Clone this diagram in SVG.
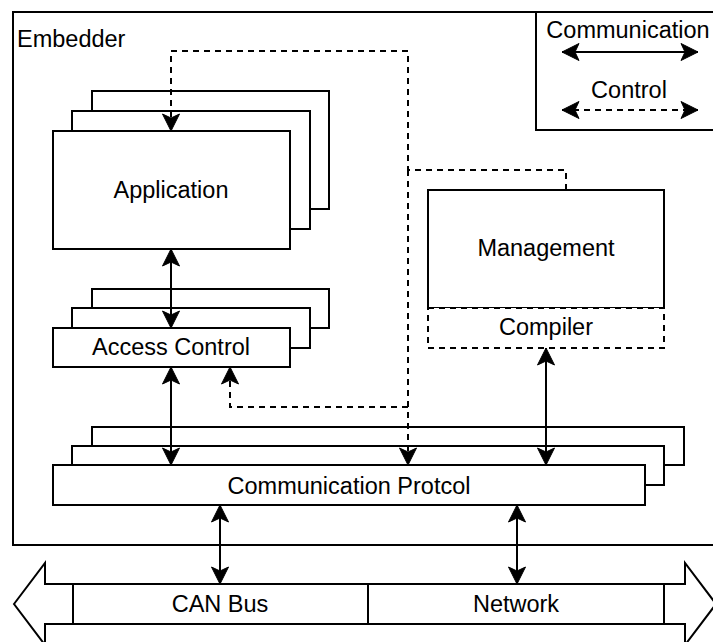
<svg xmlns="http://www.w3.org/2000/svg" width="713" height="642" viewBox="0 0 713 642">
  <style>
    .box { fill: #ffffff; stroke: #000000; stroke-width: 2; }
    .dbox { fill: #ffffff; stroke: #000000; stroke-width: 2; stroke-dasharray: 6 5; }
    .lbl { font-family: "Liberation Sans", Arial, Helvetica, sans-serif; font-size: 23.5px; fill: #000000; }
    .mid { text-anchor: middle; }
    .comm { fill: none; stroke: #000000; stroke-width: 2; }
    .ctrl { fill: none; stroke: #000000; stroke-width: 2; stroke-dasharray: 6 5; }
  </style>
  <defs>
    <marker id="arrow" markerUnits="userSpaceOnUse" viewBox="-18 -10 20 20" refX="0" refY="0" markerWidth="20" markerHeight="20" orient="auto-start-reverse">
      <path d="M0,0 L-17,-8.5 L-13,0 L-17,8.5 Z" fill="#000000" stroke="#000000" stroke-width="1" stroke-linejoin="miter"/>
    </marker>
  </defs>

  <rect width="713" height="642" fill="#ffffff"/>

  <!-- outer container -->
  <g id="embedder">
    <rect class="box" x="13" y="12" width="720" height="533"/>
    <text class="lbl" x="17" y="47">Embedder</text>
  </g>

  <!-- legend -->
  <g id="legend">
    <rect class="box" x="536" y="12" width="200" height="118"/>
    <text class="lbl mid" x="628" y="38">Communication</text>
    <path class="comm" d="M562,52 H698" marker-start="url(#arrow)" marker-end="url(#arrow)"/>
    <text class="lbl mid" x="629" y="98">Control</text>
    <path class="ctrl" d="M562,110 H698" marker-start="url(#arrow)" marker-end="url(#arrow)"/>
  </g>

  <!-- application stack -->
  <g id="application">
    <rect class="box" x="92" y="91" width="237" height="118"/>
    <rect class="box" x="72" y="111" width="238" height="118"/>
    <rect class="box" x="53" y="131" width="237" height="118"/>
    <text class="lbl mid" x="171" y="198">Application</text>
  </g>

  <!-- access control stack -->
  <g id="access-control">
    <rect class="box" x="92" y="289" width="237" height="39"/>
    <rect class="box" x="72" y="308" width="238" height="40"/>
    <rect class="box" x="53" y="328" width="237" height="39"/>
    <text class="lbl mid" x="171" y="355">Access Control</text>
  </g>

  <!-- management with compiler -->
  <g id="management">
    <rect class="box" x="428" y="190" width="236" height="118"/>
    <text class="lbl mid" x="546" y="256">Management</text>
  </g>
  <g id="compiler">
    <rect class="dbox" x="428" y="308" width="236" height="40"/>
    <text class="lbl mid" x="546" y="335">Compiler</text>
  </g>

  <!-- communication protocol stack -->
  <g id="communication-protocol">
    <rect class="box" x="92" y="427" width="592" height="38"/>
    <rect class="box" x="72" y="446" width="592" height="39"/>
    <rect class="box" x="53" y="465" width="592" height="40"/>
    <text class="lbl mid" x="349" y="494">Communication Protcol</text>
  </g>

  <!-- bus: double arrow band with two segments -->
  <g id="bus">
    <polygon class="box" points="14,604 45,563 45,584 685,584 685,563 716,604 685,645 685,624 45,624 45,645"/>
  </g>
  <g id="can-bus">
    <rect class="box" x="73" y="584" width="295" height="40"/>
    <text class="lbl mid" x="220" y="612">CAN Bus</text>
  </g>
  <g id="network">
    <rect class="box" x="368" y="584" width="296" height="40"/>
    <text class="lbl mid" x="516" y="612">Network</text>
  </g>

  <!-- connectors -->
  <g id="connectors">
    <path class="comm" d="M171,249 V328" marker-start="url(#arrow)" marker-end="url(#arrow)"/>
    <path class="comm" d="M171,367 V465" marker-start="url(#arrow)" marker-end="url(#arrow)"/>
    <path class="comm" d="M546,348 V465" marker-start="url(#arrow)" marker-end="url(#arrow)"/>
    <path class="comm" d="M220,505 V584" marker-start="url(#arrow)" marker-end="url(#arrow)"/>
    <path class="comm" d="M517,505 V584" marker-start="url(#arrow)" marker-end="url(#arrow)"/>
    <path class="ctrl" d="M566,190 V170 H408 V51 H171 V131" marker-end="url(#arrow)"/>
    <path class="ctrl" d="M408,170 V465" marker-end="url(#arrow)"/>
    <path class="ctrl" d="M408,407 H230 V367" marker-end="url(#arrow)"/>
  </g>
</svg>
